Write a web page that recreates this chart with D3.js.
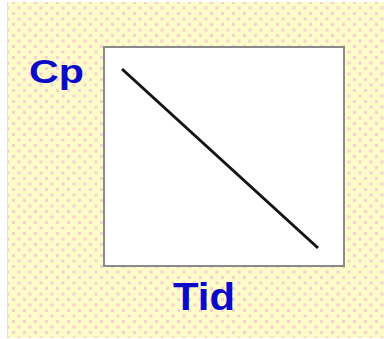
<!DOCTYPE html>
<html lang="en">
<head>
    <meta charset="UTF-8">
    <title>Cp - Tid</title>
    <script src="https://d3js.org/d3.v7.min.js"></script>
    <style>
        body { margin: 0; padding: 0; background: #fff; }
        svg { display: block; }
    </style>
</head>
<body>
    <svg id="chart" width="384" height="339"></svg>
    <script>
        // Data: Cp falls linearly over time
        const tid = [0, 1];
        const cp = [1, 0];
        const xLabel = 'Tid';
        const yLabel = 'Cp';

        const svg = d3.select('#chart');

        // dotted beige background
        const defs = svg.append('defs');
        const pat = defs.append('pattern')
            .attr('id', 'dots')
            .attr('width', 11).attr('height', 11)
            .attr('patternUnits', 'userSpaceOnUse');
        pat.append('rect').attr('width', 11).attr('height', 11).attr('fill', '#fefcc8');
        pat.append('rect').attr('x', 1).attr('y', 1).attr('width', 3).attr('height', 3).attr('fill', '#f8d0d2');
        pat.append('rect').attr('x', 6.5).attr('y', 6.5).attr('width', 3).attr('height', 3).attr('fill', '#f8d0d2');

        svg.append('rect')
            .attr('x', 8).attr('y', 2)
            .attr('width', 376).attr('height', 336)
            .attr('fill', 'url(#dots)');
        svg.append('line')
            .attr('x1', 7.5).attr('x2', 7.5).attr('y1', 2).attr('y2', 338)
            .attr('stroke', '#e2e2e2');

        // plot box
        const box = { x: 104, y: 47, w: 240, h: 219 };
        svg.append('rect')
            .attr('x', box.x).attr('y', box.y)
            .attr('width', box.w).attr('height', box.h)
            .attr('fill', '#fff')
            .attr('stroke', '#8a8a8a')
            .attr('stroke-width', 2);

        const x = d3.scaleLinear().domain([0, 1]).range([122, 318]);
        const y = d3.scaleLinear().domain([0, 1]).range([248, 69]);

        const line = d3.line()
            .x(d => x(d[0]))
            .y(d => y(d[1]));

        svg.append('path')
            .datum(d3.zip(tid, cp))
            .attr('fill', 'none')
            .attr('stroke', '#141414')
            .attr('stroke-width', 3)
            .attr('d', line);

        // axis labels
        svg.append('text')
            .attr('x', 29).attr('y', 83)
            .attr('font-family', 'Arial, "Liberation Sans", sans-serif')
            .attr('font-weight', 'bold')
            .attr('font-size', 33)
            .attr('fill', '#0a0ac8')
            .attr('textLength', 55)
            .attr('lengthAdjust', 'spacingAndGlyphs')
            .text(yLabel);

        svg.append('text')
            .attr('x', 173).attr('y', 310)
            .attr('font-family', 'Arial, "Liberation Sans", sans-serif')
            .attr('font-weight', 'bold')
            .attr('font-size', 39)
            .attr('fill', '#0a0ac8')
            .attr('textLength', 62)
            .attr('lengthAdjust', 'spacingAndGlyphs')
            .text(xLabel);
    </script>
</body>
</html>
